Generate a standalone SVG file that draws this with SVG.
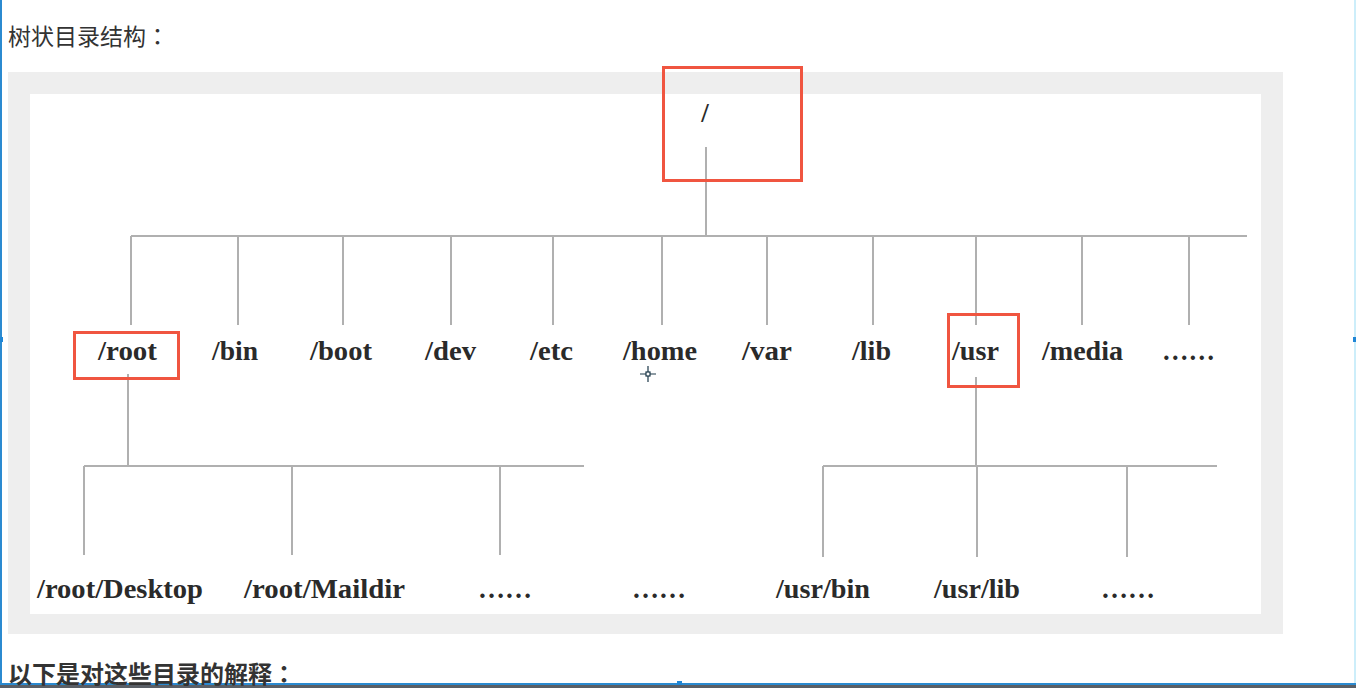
<svg xmlns="http://www.w3.org/2000/svg" width="1356" height="688" viewBox="0 0 1356 688">
<style>
.cap{font-family:"Noto Sans CJK SC","Noto Sans",sans-serif;fill:#333}
.colon{font-family:"Noto Sans CJK TC","Noto Sans CJK JP",sans-serif}
.lbl{font-family:"Liberation Serif","Times New Roman",serif;font-weight:bold;font-size:27px;fill:#2a2a2a}
.ln{stroke:#b0b0b0;stroke-width:2;fill:none}
.hl{fill:none;stroke:#f05540;stroke-width:3}
</style>
<rect width="1356" height="688" fill="#ffffff"/>
<rect x="0" y="0" width="2" height="688" fill="#2b8ad0"/>
<rect x="1354" y="0" width="2" height="688" fill="#cdeefa"/>
<rect x="0" y="683" width="1356" height="2" fill="#2b8ad0"/>
<rect x="0" y="685" width="1356" height="3" fill="#5a5f66"/>
<rect x="0" y="337" width="3" height="5" fill="#1f86d6"/>
<rect x="1353" y="337" width="3" height="5" fill="#1f86d6"/>
<rect x="677" y="681" width="5" height="4" fill="#1f86d6"/>
<text class="cap" x="8" y="45" font-size="23">树状目录结构<tspan class="colon">：</tspan></text>
<rect x="8" y="72" width="1275" height="562" fill="#eeeeee"/>
<rect x="30" y="94" width="1231" height="520" fill="#ffffff"/>
<g id="connectors">
<path class="ln" d="M706 147V236M131 236H1247M131 236V325M238 236V325M343 236V325M451 236V325M553 236V325M662 236V325M767 236V325M873 236V325M976 236V325M1082 236V325M1189 236V325"/>
<path class="ln" d="M128 374V466M84 466H584M84 466V555M292 466V555M500 466V555"/>
<path class="ln" d="M976 377V466M823 466H1217M823 466V557M977 466V557M1127 466V557"/>
</g>
<g id="node-rootdir"><text class="lbl" x="705" y="122" text-anchor="middle">/</text><rect class="hl" x="663.5" y="67.5" width="138" height="113"/></g>
<g id="node-root"><text class="lbl" x="98" y="360" textLength="59" lengthAdjust="spacingAndGlyphs">/root</text><rect class="hl" x="74.5" y="332.5" width="104" height="46"/></g>
<g id="node-bin"><text class="lbl" x="212" y="360" textLength="46" lengthAdjust="spacingAndGlyphs">/bin</text></g>
<g id="node-boot"><text class="lbl" x="310" y="360" textLength="62" lengthAdjust="spacingAndGlyphs">/boot</text></g>
<g id="node-dev"><text class="lbl" x="425" y="360" textLength="51" lengthAdjust="spacingAndGlyphs">/dev</text></g>
<g id="node-etc"><text class="lbl" x="530" y="360" textLength="43" lengthAdjust="spacingAndGlyphs">/etc</text></g>
<g id="node-home"><text class="lbl" x="623" y="360" textLength="74" lengthAdjust="spacingAndGlyphs">/home</text></g>
<g id="node-var"><text class="lbl" x="742" y="360" textLength="50" lengthAdjust="spacingAndGlyphs">/var</text></g>
<g id="node-lib"><text class="lbl" x="852" y="360" textLength="39" lengthAdjust="spacingAndGlyphs">/lib</text></g>
<g id="node-usr"><text class="lbl" x="952" y="360" textLength="47" lengthAdjust="spacingAndGlyphs">/usr</text><rect class="hl" x="948.5" y="314.5" width="70" height="72"/></g>
<g id="node-media"><text class="lbl" x="1042" y="360" textLength="81" lengthAdjust="spacingAndGlyphs">/media</text></g>
<g id="node-more1"><text class="lbl" x="1162" y="360" textLength="53" lengthAdjust="spacingAndGlyphs">……</text></g>
<g id="node-desktop"><text class="lbl" x="37" y="598" textLength="166" lengthAdjust="spacingAndGlyphs">/root/Desktop</text></g>
<g id="node-maildir"><text class="lbl" x="244" y="598" textLength="161" lengthAdjust="spacingAndGlyphs">/root/Maildir</text></g>
<g id="node-more2"><text class="lbl" x="478" y="598" textLength="54" lengthAdjust="spacingAndGlyphs">……</text></g>
<g id="node-more3"><text class="lbl" x="632" y="598" textLength="54" lengthAdjust="spacingAndGlyphs">……</text></g>
<g id="node-usrbin"><text class="lbl" x="776" y="598" textLength="94" lengthAdjust="spacingAndGlyphs">/usr/bin</text></g>
<g id="node-usrlib"><text class="lbl" x="934" y="598" textLength="86" lengthAdjust="spacingAndGlyphs">/usr/lib</text></g>
<g id="node-more4"><text class="lbl" x="1101" y="598" textLength="54" lengthAdjust="spacingAndGlyphs">……</text></g>
<g id="cursor" stroke="#1c3848" stroke-width="1.2" fill="none"><path d="M640 374H656M648 366V382"/><rect x="646" y="372" width="4" height="4" fill="#ffffff"/></g>
<text class="cap" x="8" y="683" font-size="24" font-weight="bold" fill="#222">以下是对这些目录的解释<tspan class="colon">：</tspan></text>
</svg>
